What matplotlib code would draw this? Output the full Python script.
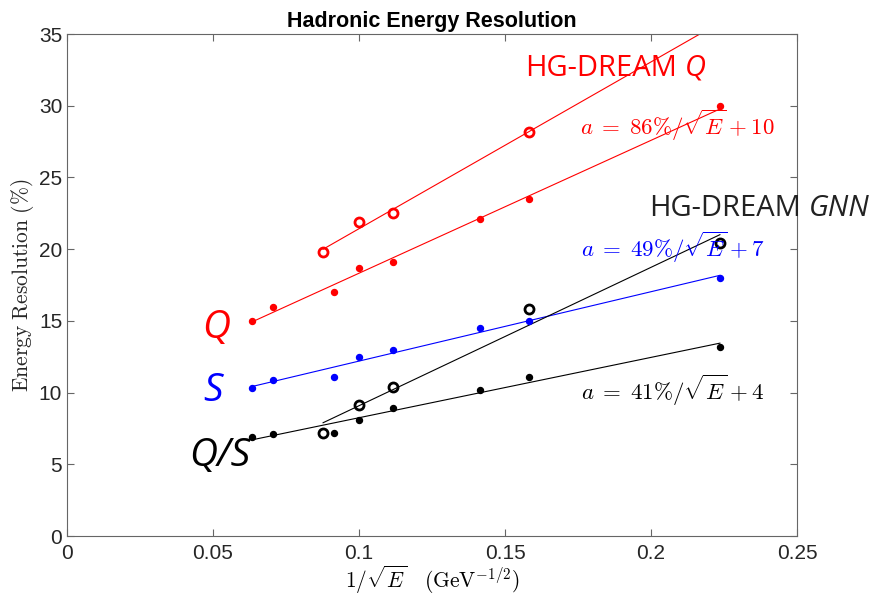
import matplotlib
matplotlib.use("Agg")
import matplotlib.pyplot as plt
import numpy as np

plt.rcParams["mathtext.fontset"] = "cm"

# 1/sqrt(E) for each beam energy
x_all = [0.0632, 0.0707, 0.0913, 0.1, 0.1118, 0.1414, 0.1581, 0.2236]
x_gnn = [0.0877, 0.1, 0.1118, 0.1581, 0.2236]
x_gnn_q = [0.0877, 0.1, 0.1118, 0.1581]

q_res = [15.0, 16.0, 17.0, 18.7, 19.1, 22.1, 23.5, 30.0]
s_res = [10.3, 10.9, 11.1, 12.5, 13.0, 14.5, 15.0, 18.0]
qs_res = [6.9, 7.1, 7.2, 8.1, 8.9, 10.2, 11.1, 13.2]
gnn_q_res = [19.8, 21.9, 22.5, 28.2]
gnn_res = [7.2, 9.1, 10.4, 15.8, 20.4]

xticks = [0, 0.05, 0.1, 0.15, 0.2, 0.25]
yticks = [0, 5, 10, 15, 20, 25, 30, 35]

fig = plt.figure(figsize=(8.69, 5.95), dpi=100)
ax = fig.add_axes([67 / 869, 59 / 595, 730 / 869, 502 / 595])


def fit_line(xs, ys, color, x_range=None):
    p = np.polyfit(xs, ys, 1)
    xr = xs if x_range is None else x_range
    xx = np.array([min(xr), max(xr)])
    ax.plot(xx, np.polyval(p, xx), color=color, lw=0.8, zorder=2)


fit_line(x_all, q_res, "red")
fit_line(x_all, s_res, "blue")
fit_line(x_all, qs_res, "black")
fit_line(x_gnn_q, gnn_q_res, "red", x_range=x_gnn)
fit_line(x_gnn, gnn_res, "black")

ax.plot(x_all, q_res, "o", color="red", ms=4.3, zorder=3)
ax.plot(x_all, s_res, "o", color="blue", ms=4.3, zorder=3)
ax.plot(x_all, qs_res, "o", color="black", ms=4.3, zorder=3)
ax.plot(x_gnn_q, gnn_q_res, "o", mfc="none", mec="red", ms=6.5, mew=2, zorder=3)
ax.plot(x_gnn, gnn_res, "o", mfc="none", mec="black", ms=6.5, mew=2, zorder=3)

sans = "Open Sans"
hg_q = ax.text(0.1568, 32.6, "HG-DREAM", color="red", fontsize=21,
               family=sans, va="center", ha="left")
hg_g = ax.text(0.1993, 22.8, "HG-DREAM", color="#222222", fontsize=21,
               family=sans, va="center", ha="left", clip_on=False)
# italic suffixes attached to the right of the regular part
for t, suffix in [(hg_q, "Q"), (hg_g, "GNN")]:
    ax.annotate(suffix, xy=(1, 0), xycoords=t, xytext=(6, 0),
                textcoords="offset points", color=t.get_color(), fontsize=21,
                family=sans, style="italic", va="bottom", ha="left",
                annotation_clip=False)

ax.text(0.1757, 27.96, r"$a\;=\;86\%/\sqrt{E}\:+\:10$", color="red", fontsize=16.5)
ax.text(0.1759, 19.48, r"$a\;=\;49\%/\sqrt{E}\:+\:7$", color="blue", fontsize=16.5)
ax.text(0.1759, 9.48, r"$a\;=\;41\%/\sqrt{E}\:+\:4$", color="black", fontsize=16.5)

ax.text(0.0510, 14.5, "Q", color="red", fontsize=28, family=sans,
        style="italic", ha="center", va="center")
ax.text(0.0501, 10.1, "S", color="blue", fontsize=28, family=sans,
        style="italic", ha="center", va="center")
ax.text(0.0522, 5.6, "Q/S", color="black", fontsize=28, family=sans,
        style="italic", ha="center", va="center")

ax.set_xlim(0, 0.25)
ax.set_ylim(0, 35)
ax.set_xticks(xticks)
ax.set_yticks(yticks)
ax.set_xticklabels(["0", "0.05", "0.1", "0.15", "0.2", "0.25"])
ax.tick_params(direction="in", length=5, width=0.8, top=True, right=True,
               labelsize=15, labelcolor="#262626", color="#666666")
ax.tick_params(axis="x", pad=6)
for lab in ax.get_xticklabels() + ax.get_yticklabels():
    lab.set_family("Liberation Sans")
for s in ax.spines.values():
    s.set_color("#666666")
    s.set_linewidth(0.8)

ax.set_title("Hadronic Energy Resolution", fontsize=15.5, fontweight="bold",
             family="Liberation Sans", pad=5)
ax.set_xlabel(r"$1/\sqrt{E}\ \ \ (\mathrm{GeV}^{-1/2})$", fontsize=15.5, labelpad=0)
ax.set_ylabel(r"$\mathrm{Energy\ Resolution\ (\%)}$", fontsize=15.5, labelpad=2,
              color="#262626")

fig.savefig("out.png", dpi=100)
